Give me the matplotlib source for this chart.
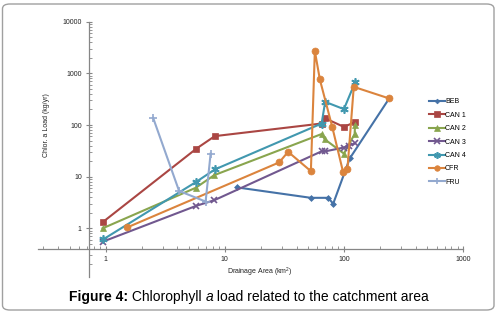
import matplotlib
matplotlib.use("Agg")
import matplotlib.pyplot as plt
from matplotlib.patches import FancyBboxPatch

plt.rcParams["font.family"] = ["Liberation Sans", "DejaVu Sans"]
plt.rcParams["mathtext.fontset"] = "custom"
plt.rcParams["mathtext.rm"] = "Liberation Sans"

# data (drainage area km2, chl a load kg/yr)
beb_x = [12.7, 52.8, 73.8, 81.3, 112, 240]
beb_y = [6.2, 3.9, 3.9, 3.0, 22.6, 327]
can1_x = [0.94, 5.78, 8.24, 65, 70, 100, 124]
can1_y = [1.31, 35, 61, 107, 134, 92, 114]
can2_x = [0.94, 5.7, 8.14, 65, 69, 100, 123, 124]
can2_y = [1.0, 6.1, 10.7, 67, 53, 28, 67, 98]
can3_x = [0.94, 5.78, 8.14, 65, 70, 100, 110, 123]
can3_y = [0.55, 2.74, 3.5, 31, 31, 36.7, 40, 44]
can4_x = [0.95, 5.78, 8.24, 65, 69.6, 100, 124]
can4_y = [0.61, 8.0, 13.8, 107, 281, 203, 667]
cfr_x = [1.51, 28.6, 34, 52.8, 57, 62.8, 79.8, 98.6, 107, 121, 240]
cfr_y = [1.04, 18.9, 30.3, 12.8, 2723, 762, 92, 12.1, 13.8, 548, 327]
fru_x = [2.5, 4.13, 6.9, 7.6]
fru_y = [138, 5.3, 3.3, 28]

series = [
    ("BEB", beb_x, beb_y, "#4572A7", "D", 3),
    ("CAN 1", can1_x, can1_y, "#AA4643", "s", 5),
    ("CAN 2", can2_x, can2_y, "#89A54E", "^", 5),
    ("CAN 3", can3_x, can3_y, "#71588F", "x", 5),
    ("CAN 4", can4_x, can4_y, "#4198AF", (6, 2, 0), 6),
    ("CFR", cfr_x, cfr_y, "#DB843D", "o", 5),
    ("FRU", fru_x, fru_y, "#93A9CF", "+", 6),
]

W, H = 499, 312
fig = plt.figure(figsize=(W / 100, H / 100), dpi=100)

# outer chart frame
fig.patches.append(FancyBboxPatch((2.5 / W, 2 / H), 491.5 / W, 306 / H,
                                  boxstyle="round,pad=0,rounding_size=0.015",
                                  transform=fig.transFigure, fc="none",
                                  ec="#A0A0A0", lw=1.0, zorder=-1))

L, R, T, B = 38, 463, 21.7, 276.7
ax = fig.add_axes([L / W, (H - B) / H, (R - L) / W, (B - T) / H])
ax.set_facecolor("none")
ax.set_xscale("log"); ax.set_yscale("log")
ax.set_xlim(0.27, 1000); ax.set_ylim(0.116, 10000)

for name, xs, ys, c, m, ms in series:
    mew = 1.2 if m in ("x", "+") or isinstance(m, tuple) else 0.5
    ax.plot(xs, ys, color=c, lw=1.5, marker=m, ms=ms, mew=mew, mec=c, mfc=c, label=name)

for s in ["top", "right"]:
    ax.spines[s].set_visible(False)
ax.spines["left"].set_position(("data", 0.72))
ax.spines["bottom"].set_position(("data", 0.39))
for s in ["left", "bottom"]:
    ax.spines[s].set_color("#868686"); ax.spines[s].set_linewidth(0.9)

ax.set_xticks([1, 10, 100, 1000]); ax.set_xticklabels(["1", "10", "100", "1000"])
ax.set_yticks([1, 10, 100, 1000, 10000]); ax.set_yticklabels(["1", "10", "100", "1000", "10000"])
ax.tick_params(which="major", direction="inout", length=4, width=0.8, color="#868686",
               labelsize=5, labelcolor="#222222", pad=3)
ax.tick_params(which="minor", direction="in", length=2.5, width=0.6, color="#868686")

fig.text(46.5 / W, 1 - 125 / H, "Chlor. a Load (kg/yr)", rotation=90, ha="center", va="center",
         fontsize=5, color="#222222")
fig.text(260 / W, 1 - 272 / H, "Drainage Area (km$^2$)", ha="center", va="center",
         fontsize=5, color="#222222")

ax.legend(loc="upper left", bbox_to_anchor=(426 / W, 1 - 95 / H),
          bbox_transform=fig.transFigure, frameon=False, fontsize=5,
          handlelength=2.2, handletextpad=0.05, labelspacing=0.92, borderpad=0,
          markerscale=0.8)

# caption in pieces: bold / normal / italic / normal
t1 = fig.text(69 / W, 1 - 301 / H, "Figure 4:", fontsize=10, fontweight="bold",
              ha="left", va="baseline")
t2 = fig.text(0, 0, " Chlorophyll ", fontsize=10, ha="left", va="baseline")
t3 = fig.text(0, 0, "a", fontsize=10, style="italic", ha="left", va="baseline")
t4 = fig.text(0, 0, " load related to the catchment area", fontsize=10, ha="left", va="baseline")
fig.canvas.draw()
r = fig.canvas.get_renderer()
x = t1.get_window_extent(r).x1
for t in (t2, t3, t4):
    t.set_position((x / W, 1 - 301 / H))
    x = t.get_window_extent(r).x1

fig.savefig("out.png", dpi=100)
